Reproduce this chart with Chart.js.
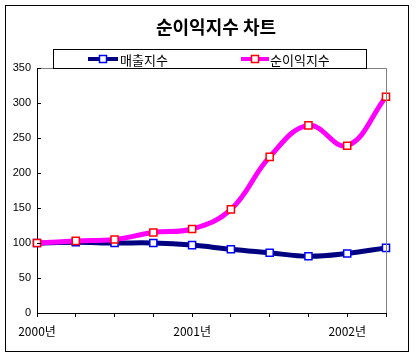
<!DOCTYPE html>
<html><head><meta charset="utf-8">
<script src="https://cdn.jsdelivr.net/npm/chart.js@4/dist/chart.umd.min.js"></script>
<style>html,body{margin:0;padding:0;background:#fff;}#wrap{width:420px;height:357px;position:relative;}</style>
</head><body><div id="wrap"><canvas id="c" width="420" height="357"></canvas></div>
<script>
const categories = ['2000년','','','','2001년','','','','2002년',''];
const salesIndex = [100, 101, 100, 100, 97, 91, 86, 81, 85, 93];
const profitIndex = [100, 103, 105, 115, 120, 148, 223, 268, 239, 309];
const yTicks = [0, 50, 100, 150, 200, 250, 300, 350];
const seriesNames = ['매출지수', '순이익지수'];
const chartTitle = '순이익지수 차트';

const FONT = "'Liberation Sans', Arial, sans-serif";
const KFONT = "'Noto Sans CJK KR', 'Liberation Sans', sans-serif";

const deco = {
  id: 'deco',
  afterDraw(chart) {
    const ctx = chart.ctx, a = chart.chartArea, y = chart.scales.y;
    ctx.save();
    // outer frame
    ctx.strokeStyle = '#000'; ctx.lineWidth = 1;
    ctx.strokeRect(5.5, 5.5, 403, 346);
    // top & right plot border (gray)
    ctx.strokeStyle = '#808080';
    ctx.beginPath();
    ctx.moveTo(a.left, Math.round(a.top) + 0.5); ctx.lineTo(a.right + 0.5, Math.round(a.top) + 0.5);
    ctx.lineTo(Math.round(a.right) + 0.5, a.bottom);
    ctx.stroke();
    // inward y tick marks
    ctx.strokeStyle = '#000';
    ctx.beginPath();
    yTicks.forEach(v => { const py = Math.round(y.getPixelForValue(v)) + 0.5; ctx.moveTo(a.left, py); ctx.lineTo(a.left + 4, py); });
    ctx.stroke();
    // title
    ctx.fillStyle = '#000';
    ctx.font = "bold 18px " + KFONT;
    ctx.textAlign = 'center'; ctx.textBaseline = 'middle';
    ctx.fillText(chartTitle, 216, 27);
    // legend box
    ctx.fillStyle = '#fff';
    ctx.fillRect(54, 49, 313, 19);
    ctx.strokeStyle = '#000';
    ctx.strokeRect(53.5, 49.5, 313, 19);
    const items = [
      {x1: 88, x2: 118, tx: 120, line: '#000080', mark: '#0000FF', name: seriesNames[0]},
      {x1: 241, x2: 269, tx: 270, line: '#FF00FF', mark: '#FF0000', name: seriesNames[1]}
    ];
    items.forEach(it => {
      ctx.strokeStyle = it.line; ctx.lineWidth = 4;
      ctx.beginPath(); ctx.moveTo(it.x1, 59); ctx.lineTo(it.x2, 59); ctx.stroke();
      const cx = (it.x1 + it.x2) / 2;
      ctx.fillStyle = '#fff'; ctx.fillRect(cx - 3.5, 55.5, 7, 7);
      ctx.strokeStyle = it.mark; ctx.lineWidth = 1.5; ctx.strokeRect(cx - 3.5, 55.5, 7, 7);
      ctx.fillStyle = '#000'; ctx.font = "13px " + KFONT;
      ctx.textAlign = 'left'; ctx.textBaseline = 'middle';
      ctx.fillText(it.name, it.tx, 60);
    });
    ctx.restore();
  }
};

new Chart(document.getElementById('c'), {
  type: 'line',
  data: {
    labels: categories,
    datasets: [
      { label: seriesNames[1], data: profitIndex, borderColor: '#FF00FF', borderWidth: 5, tension: 0.4,
        pointStyle: 'rect', pointRadius: 5, pointBackgroundColor: '#fff', pointBorderColor: '#FF0000', pointBorderWidth: 1.5 },
      { label: seriesNames[0], data: salesIndex, borderColor: '#000080', borderWidth: 5, tension: 0.4,
        pointStyle: 'rect', pointRadius: 5, pointBackgroundColor: '#fff', pointBorderColor: '#0000FF', pointBorderWidth: 1.5 }
    ]
  },
  options: {
    responsive: false, animation: false, devicePixelRatio: 1,
    layout: { padding: { left: 0, right: 34, top: 68, bottom: 0 } },
    plugins: { legend: { display: false }, title: { display: false }, tooltip: { enabled: false } },
    scales: {
      x: {
        offset: false,
        grid: { drawOnChartArea: false, drawTicks: true, tickLength: 4, color: '#000' },
        border: { display: true, color: '#000', width: 1 },
        ticks: { autoSkip: false, maxRotation: 0, padding: 7, color: '#000', font: { family: KFONT, size: 12 } },
        afterFit(s) { s.height = 44; }
      },
      y: {
        min: 0, max: 350,
        afterBuildTicks(s) { s.ticks = yTicks.map(v => ({ value: v })); },
        grid: { drawOnChartArea: false, drawTicks: false },
        border: { display: true, color: '#000', width: 1 },
        ticks: { padding: 6, color: '#000', font: { family: FONT, size: 11 } },
        afterFit(s) { s.width = 37; }
      }
    }
  },
  plugins: [deco]
});
</script></body></html>
